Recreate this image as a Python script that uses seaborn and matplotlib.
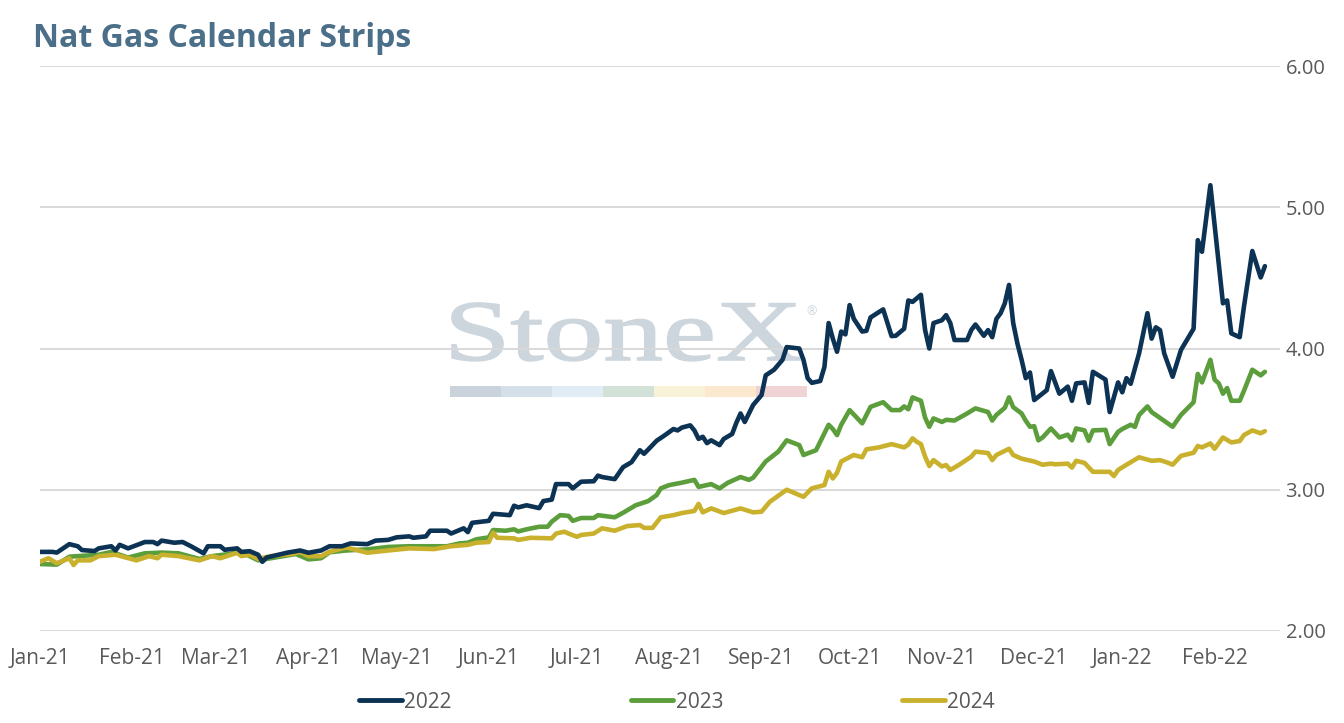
import numpy as np
import pandas as pd
import matplotlib
matplotlib.use("Agg")
import matplotlib.pyplot as plt
import seaborn as sns
from matplotlib.textpath import TextPath
from matplotlib.patches import PathPatch, Rectangle
from matplotlib.font_manager import FontProperties
from matplotlib.transforms import Affine2D

# ---------------- data (trading-day index, price $/MMBtu) ----------------
day_2022 = [0, 3, 4, 7, 9, 10, 13, 14, 17, 18, 19, 21, 25, 27, 28, 29, 32, 34, 36, 39, 40, 43, 44, 47, 48, 50,
            52, 53, 54, 59, 62, 64, 67, 69, 72, 74, 78, 80, 83, 85, 88, 89, 92, 93, 97, 98, 101, 102, 103,
            107, 108, 112, 113, 114, 116, 119, 120, 122, 123, 126, 127, 129, 132, 133, 134, 137, 139, 141,
            143, 144, 145, 147, 149, 151, 152, 153, 155, 156, 157, 158, 159, 160, 162, 163, 165, 166, 167,
            168, 170, 172, 173, 175, 177, 178, 181, 182, 183, 184, 186, 187, 188, 189, 190, 191, 192, 193,
            194, 196, 197, 198, 201, 203, 204, 206, 207, 208, 210, 211, 212, 213, 215, 216, 217, 218, 221,
            222, 223, 225, 226, 227, 228, 229, 230, 231, 232, 233, 234, 235, 236, 237, 238, 240, 241, 243,
            245, 246, 247, 249, 250, 251, 254, 255, 257, 258, 259, 260, 262, 264, 265, 266, 267, 268, 270,
            272, 275, 276, 277, 279, 282, 283, 284, 286, 287, 289, 291, 292]
val_2022 = [2.56, 2.56, 2.555, 2.615, 2.60, 2.573, 2.566, 2.585, 2.60, 2.57, 2.61, 2.585, 2.63, 2.63, 2.615,
            2.64, 2.625, 2.63, 2.60, 2.55, 2.60, 2.60, 2.575, 2.585, 2.56, 2.565, 2.54, 2.49, 2.52, 2.555,
            2.57, 2.554, 2.57, 2.60, 2.60, 2.62, 2.615, 2.64, 2.645, 2.663, 2.67, 2.66, 2.67, 2.71, 2.71,
            2.69, 2.727, 2.70, 2.766, 2.78, 2.83, 2.82, 2.887, 2.875, 2.89, 2.87, 2.92, 2.93, 3.04, 3.04,
            3.01, 3.057, 3.06, 3.10, 3.09, 3.075, 3.16, 3.195, 3.28, 3.255, 3.285, 3.347, 3.387, 3.43, 3.42,
            3.44, 3.456, 3.42, 3.36, 3.375, 3.33, 3.35, 3.316, 3.36, 3.395, 3.474, 3.54, 3.48, 3.60, 3.67,
            3.81, 3.85, 3.92, 4.01, 4.00, 3.92, 3.79, 3.757, 3.77, 3.87, 4.18, 4.07, 3.977, 4.12, 4.10,
            4.307, 4.21, 4.12, 4.125, 4.22, 4.277, 4.088, 4.09, 4.14, 4.34, 4.33, 4.38, 4.13, 4.00, 4.18,
            4.20, 4.236, 4.18, 4.06, 4.06, 4.13, 4.17, 4.09, 4.13, 4.08, 4.21, 4.25, 4.32, 4.45, 4.18,
            4.036, 3.92, 3.79, 3.83, 3.635, 3.658, 3.705, 3.84, 3.68, 3.73, 3.63, 3.753, 3.76, 3.615,
            3.835, 3.78, 3.55, 3.76, 3.69, 3.79, 3.75, 3.965, 4.25, 4.07, 4.15, 4.13, 3.965, 3.80, 3.99,
            4.14, 4.767, 4.685, 5.156, 4.32, 4.34, 4.107, 4.08, 4.295, 4.69, 4.503, 4.583]

day_2023 = [0, 4, 7, 14, 17, 21, 25, 29, 33, 38, 41, 45, 48, 50, 52, 55, 61, 64, 67, 69, 73, 78, 83, 88, 94,
            97, 100, 102, 104, 107, 108, 111, 113, 114, 116, 119, 121, 122, 124, 126, 127, 129, 132, 133,
            137, 139, 142, 144, 145, 147, 148, 150, 153, 156, 157, 160, 162, 164, 167, 169, 170, 173, 176,
            178, 181, 182, 185, 188, 189, 190, 191, 193, 196, 198, 201, 203, 205, 206, 207, 208, 210, 211,
            212, 213, 215, 216, 218, 221, 223, 226, 227, 228, 230, 231, 232, 234, 235, 236, 237, 238, 239,
            241, 243, 245, 246, 247, 249, 250, 251, 254, 255, 257, 258, 260, 261, 262, 264, 265, 270, 272,
            275, 276, 277, 279, 280, 281, 282, 283, 284, 286, 287, 289, 291, 292]
val_2023 = [2.474, 2.47, 2.526, 2.54, 2.56, 2.52, 2.55, 2.555, 2.55, 2.51, 2.53, 2.545, 2.56, 2.53, 2.50,
            2.515, 2.545, 2.507, 2.515, 2.557, 2.57, 2.578, 2.595, 2.60, 2.60, 2.60, 2.62, 2.625, 2.649,
            2.663, 2.715, 2.71, 2.72, 2.705, 2.72, 2.738, 2.738, 2.774, 2.82, 2.815, 2.78, 2.80, 2.80, 2.82,
            2.805, 2.837, 2.89, 2.91, 2.92, 2.962, 3.01, 3.033, 3.05, 3.07, 3.02, 3.04, 3.01, 3.05, 3.09,
            3.07, 3.085, 3.20, 3.27, 3.35, 3.316, 3.246, 3.28, 3.46, 3.43, 3.387, 3.46, 3.564, 3.47, 3.587,
            3.62, 3.564, 3.564, 3.59, 3.57, 3.654, 3.63, 3.51, 3.446, 3.505, 3.48, 3.495, 3.49, 3.54, 3.576,
            3.55, 3.49, 3.53, 3.58, 3.654, 3.585, 3.54, 3.488, 3.446, 3.45, 3.35, 3.37, 3.434, 3.37, 3.39,
            3.35, 3.434, 3.42, 3.347, 3.42, 3.424, 3.323, 3.41, 3.43, 3.46, 3.445, 3.529, 3.59, 3.55, 3.446,
            3.53, 3.62, 3.82, 3.76, 3.92, 3.78, 3.753, 3.68, 3.72, 3.63, 3.63, 3.70, 3.85, 3.81, 3.835]

day_2024 = [0, 2, 4, 7, 8, 9, 12, 14, 18, 23, 26, 28, 29, 33, 38, 41, 43, 47, 48, 50, 52, 55, 60, 62, 64, 67,
            69, 73, 78, 83, 88, 94, 98, 102, 104, 107, 108, 109, 113, 114, 117, 122, 123, 125, 126, 128,
            129, 132, 134, 137, 140, 143, 144, 146, 148, 151, 153, 156, 157, 158, 160, 163, 167, 170, 172,
            174, 178, 182, 184, 187, 188, 189, 190, 191, 194, 196, 197, 200, 203, 206, 207, 208, 209, 210,
            211, 212, 213, 215, 216, 217, 219, 222, 223, 226, 227, 228, 231, 232, 234, 237, 239, 241, 242,
            245, 246, 247, 249, 251, 255, 256, 257, 259, 262, 265, 267, 269, 270, 272, 275, 276, 277, 279,
            280, 281, 282, 284, 286, 287, 289, 291, 292]
val_2024 = [2.49, 2.515, 2.48, 2.515, 2.467, 2.50, 2.50, 2.53, 2.54, 2.50, 2.53, 2.515, 2.54, 2.53, 2.50,
            2.53, 2.515, 2.554, 2.53, 2.54, 2.51, 2.53, 2.545, 2.56, 2.53, 2.53, 2.56, 2.592, 2.554, 2.57,
            2.585, 2.58, 2.60, 2.61, 2.625, 2.63, 2.696, 2.66, 2.656, 2.645, 2.66, 2.656, 2.69, 2.703, 2.69,
            2.667, 2.68, 2.69, 2.727, 2.71, 2.743, 2.75, 2.73, 2.73, 2.805, 2.82, 2.835, 2.85, 2.90, 2.84,
            2.868, 2.835, 2.868, 2.84, 2.845, 2.915, 3.00, 2.95, 3.01, 3.033, 3.127, 3.08, 3.12, 3.20, 3.246,
            3.23, 3.286, 3.30, 3.323, 3.30, 3.32, 3.364, 3.34, 3.323, 3.234, 3.168, 3.21, 3.165, 3.175, 3.14,
            3.175, 3.234, 3.27, 3.26, 3.21, 3.246, 3.29, 3.246, 3.22, 3.20, 3.177, 3.185, 3.18, 3.185, 3.157,
            3.205, 3.19, 3.127, 3.127, 3.097, 3.14, 3.177, 3.23, 3.205, 3.21, 3.19, 3.177, 3.24, 3.262, 3.31,
            3.30, 3.328, 3.29, 3.33, 3.37, 3.335, 3.345, 3.387, 3.42, 3.40, 3.415]

series_names = ["2022", "2023", "2024"]
tick_days = [0, 22, 42, 64, 85, 107, 128, 150, 172, 193, 215, 237, 258, 280]
tick_labels = ["Jan-21", "Feb-21", "Mar-21", "Apr-21", "May-21", "Jun-21", "Jul-21",
               "Aug-21", "Sep-21", "Oct-21", "Nov-21", "Dec-21", "Jan-22", "Feb-22"]
y_ticks = [2.0, 3.0, 4.0, 5.0, 6.0]

# ---------------- style ----------------
sns.set_style("white")
plt.rcParams["font.family"] = ["Open Sans", "DejaVu Sans"]

colors = {"2022": "#0c3254", "2023": "#5c9e3c", "2024": "#c9b12e"}
zorders = {"2022": 4, "2023": 2, "2024": 3}
TXT = "#595959"

frames = []
for name, d, v in zip(series_names, [day_2022, day_2023, day_2024], [val_2022, val_2023, val_2024]):
    frames.append(pd.DataFrame({"day": d, "price": v, "year": name}))
df = pd.concat(frames, ignore_index=True)

W, H = 1344, 723
fig = plt.figure(figsize=(W / 100, H / 100), dpi=100)
fig.patch.set_facecolor("white")

ax = fig.add_axes([40 / W, 1 - 631 / H, 1240 / W, 565 / H])
ax.patch.set_alpha(0)

sns.lineplot(data=df, x="day", y="price", hue="year", hue_order=series_names,
             palette=colors, linewidth=3.3, estimator=None, sort=True, ax=ax, legend=True)
for line, name in zip(ax.get_lines(), series_names):
    line.set_zorder(zorders[name])
    line.set_solid_capstyle("round")
    line.set_solid_joinstyle("round")

ax.set_xlim(0, 295.6)
ax.set_ylim(2, 6)
ax.set_yticks(y_ticks)
ax.set_yticklabels([f"{t:.2f}" for t in y_ticks])
ax.yaxis.tick_right()
ax.set_xticks(tick_days)
ax.set_xticklabels(tick_labels)
ax.tick_params(axis="both", length=0, labelcolor=TXT)
ax.tick_params(axis="x", labelsize=15, pad=12)
ax.tick_params(axis="y", labelsize=14.5, pad=4)
ax.grid(axis="y", color="#d9d9d9", linewidth=1.4, zorder=0)
ax.grid(axis="x", visible=False)
ax.set_axisbelow(True)
for s in ax.spines.values():
    s.set_visible(False)
ax.set_xlabel("")
ax.set_ylabel("")

# legend
handles, labels = ax.get_legend_handles_labels()
ax.legend(handles, labels, loc="center", bbox_to_anchor=(677 / W, 1 - 702 / H),
          bbox_transform=fig.transFigure, ncol=3, frameon=False, fontsize=15,
          handlelength=2.05, handletextpad=0.1, columnspacing=8.6, labelcolor=TXT)
for lh in ax.get_legend().get_lines():
    lh.set_linewidth(3.5)
    lh.set_solid_capstyle("round")

# title
fig.text(33 / W, 1 - 47 / H, "Nat Gas Calendar Strips", fontsize=23, fontweight="bold",
         color="#4b6f89", ha="left", va="baseline")

# watermark logo (decoration)
tp = TextPath((0, 0), "StoneX", size=1, prop=FontProperties(family="Liberation Serif"))
ext = tp.get_extents()
x0, x1, ytop, ybase = 452, 800, 303, 360
sx = (x1 - x0) / ext.width
sy = (ybase - ytop) / 0.662
tr = Affine2D().translate(-ext.x0, 0).scale(sx, sy).translate(x0, H - ybase)
fig.add_artist(PathPatch(tp, transform=tr, facecolor="#cdd5dd", edgecolor="#cdd5dd",
                         linewidth=1.2, zorder=-5))
fig.text(812 / W, 1 - 312 / H, "®", fontsize=9, color="#cdd5dd", ha="center", va="center", zorder=-5)
stripe_cols = ["#cad2db", "#d4dfe9", "#e2ecf4", "#d3e2d9", "#f8f2d9", "#fbe8cf", "#f0d3d5"]
sw = (807 - 450) / len(stripe_cols)
for i, c in enumerate(stripe_cols):
    fig.add_artist(Rectangle((450 + i * sw, H - 397), sw, 11, transform=None,
                             facecolor=c, edgecolor="none", zorder=-5))

fig.savefig("out.png", dpi=100, facecolor="white")
